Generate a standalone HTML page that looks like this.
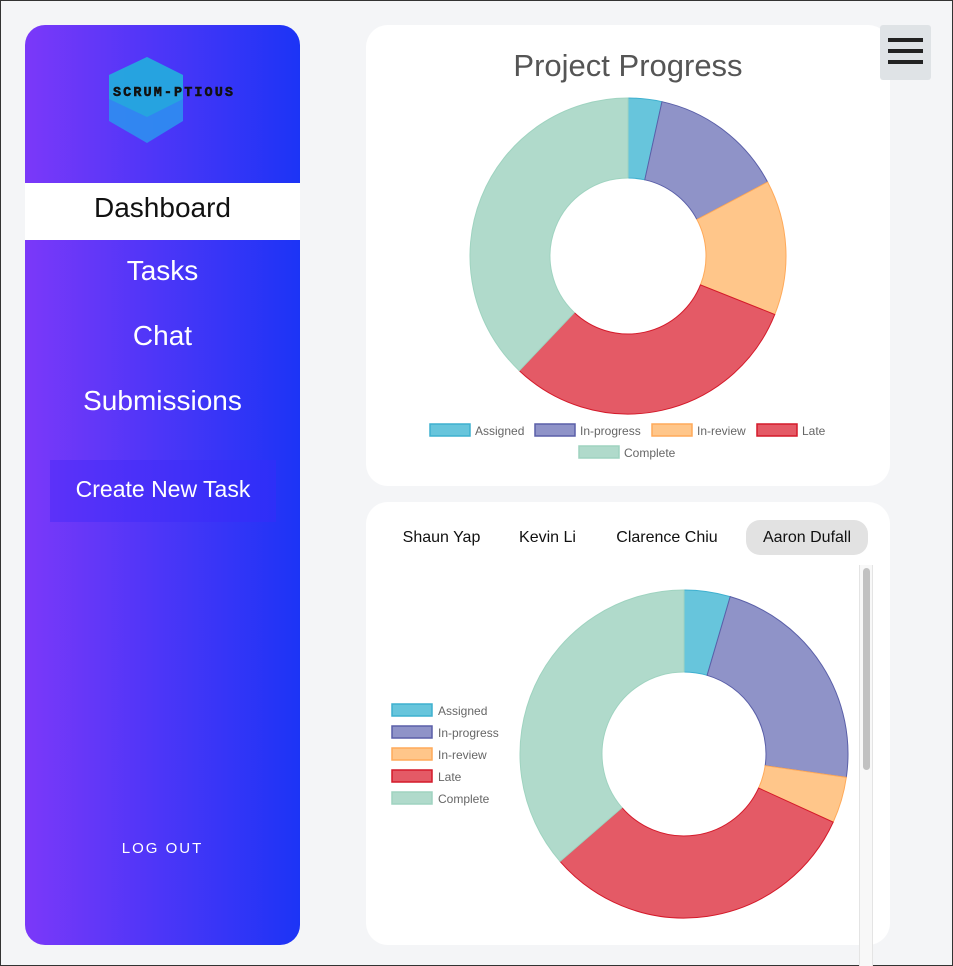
<!DOCTYPE html>
<html><head><meta charset="utf-8"><style>
*{box-sizing:border-box;margin:0;padding:0}
body{width:953px;height:966px;background:#f4f5f7;font-family:"Liberation Sans",sans-serif;position:relative;overflow:hidden;box-shadow:inset 0 0 0 1px #333}
.side{position:absolute;left:25px;top:25px;width:275px;height:920px;border-radius:20px;background:linear-gradient(90deg,#7b38f9,#1c34f6);overflow:hidden}
.nav{position:absolute;left:0;width:275px;text-align:center;color:#fff;font-size:28px}
.card{position:absolute;background:#fff;border-radius:22px}
.tab{position:absolute;top:520px;height:35px;line-height:35px;font-size:16px;color:#111;text-align:center}
</style></head><body>
<div class="side">
 <svg style="position:absolute;left:80px;top:30px" width="130" height="90">
  <polygon points="42,2 78,20 78,66 42,88 4,66 4,20" fill="#2d8ff0" opacity="0.9"/>
  <polygon points="42,2 78,20 78,44 42,62 4,44 4,20" fill="#1fb7d6" opacity="0.6"/>
  <text x="8" y="41" font-family="Liberation Mono,monospace" font-weight="bold" font-size="13.5" fill="#111" textLength="120" stroke="#111" stroke-width="0.5">SCRUM-PTIOUS</text>
 </svg>
 <div class="nav" style="top:158px;height:57px;line-height:50px;background:#fff;color:#111">Dashboard</div>
 <div class="nav" style="top:230px">Tasks</div>
 <div class="nav" style="top:295px">Chat</div>
 <div class="nav" style="top:360px">Submissions</div>
 <div style="position:absolute;left:25px;top:435px;width:226px;height:62px;line-height:58px;text-align:center;color:#fff;font-size:23px;background:rgba(60,40,250,0.4)">Create New Task</div>
 <div style="position:absolute;left:0;width:275px;top:815px;text-align:center;color:#fff;font-size:15px;letter-spacing:2px">LOG OUT</div>
</div>
<div class="card" style="left:366px;top:25px;width:524px;height:461px"></div>
<div class="card" style="left:366px;top:502px;width:524px;height:443px"></div>
<div style="position:absolute;left:880px;top:25px;width:51px;height:55px;background:#dfe3e6;border-radius:3px">
 <div style="position:absolute;left:8px;top:13px;width:35px;height:4px;background:#222"></div>
 <div style="position:absolute;left:8px;top:24px;width:35px;height:4px;background:#222"></div>
 <div style="position:absolute;left:8px;top:35px;width:35px;height:4px;background:#222"></div>
</div>
<div style="position:absolute;left:366px;width:524px;top:48px;text-align:center;font-size:31px;color:#555">Project Progress</div>
<div class="tab" style="left:390px;width:103px">Shaun Yap</div>
<div class="tab" style="left:510px;width:75px">Kevin Li</div>
<div class="tab" style="left:603px;width:128px">Clarence Chiu</div>
<div class="tab" style="left:746px;width:122px;background:#e2e2e2;border-radius:14px">Aaron Dufall</div>
<div style="position:absolute;left:859px;top:565px;width:14px;height:401px;background:#f8f8f8;border-left:1px solid #e4e4e4;border-right:1px solid #e4e4e4">
 <div style="position:absolute;left:3px;top:3px;width:7px;height:202px;background:#c1c1c1;border-radius:4px"></div>
</div>
<svg id="chart" width="953" height="966" style="position:absolute;left:0;top:0"></svg>
<script>
const categories=["Assigned","In-progress","In-review","Late","Complete"];
const projectValues=[1,4,4,9,11];
const memberValues=[1,5,1,7,8];
const fills=["#67c5dc","#8f93c8","#ffc68a","#e45a66","#b0dacb"];
const strokes=["#3fb0cf","#5a5fa8","#ffaa5a","#d41a2a","#9fd3c0"];
const NS="http://www.w3.org/2000/svg";
const svg=document.getElementById('chart');
function mk(t,a){const e=document.createElementNS(NS,t);for(const k in a)e.setAttribute(k,a[k]);svg.appendChild(e);return e;}
function donut(vals,cx,cy,R,r,prefix){
 const tot=vals.reduce((a,b)=>a+b,0);let a0=0;
 vals.forEach((v,i)=>{const a1=a0+v/tot*2*Math.PI;
  const p=(ang,rad)=>[cx+rad*Math.sin(ang),cy-rad*Math.cos(ang)];
  const [x1,y1]=p(a0,R),[x2,y2]=p(a1,R),[x3,y3]=p(a1,r),[x4,y4]=p(a0,r);
  const lg=(a1-a0)>Math.PI?1:0;
  const e=mk('path',{d:`M${x1},${y1}A${R},${R} 0 ${lg} 1 ${x2},${y2}L${x3},${y3}A${r},${r} 0 ${lg} 0 ${x4},${y4}Z`,fill:fills[i],stroke:strokes[i],'stroke-width':1});
  
  
  a0=a1;});
}
donut(projectValues,628,256,158,78,'project');
donut(memberValues,684,754,164,82,'member');
const topPos=[[430,424],[535,424],[652,424],[757,424],[579,446]];
categories.forEach((c,i)=>{const [x,y]=topPos[i];
 const r=mk('rect',{x:x,y:y,width:40,height:12,fill:fills[i],stroke:strokes[i],'stroke-width':1.5});
 
 
 const t=mk('text',{x:x+45,y:y+11,'font-size':12,fill:'#666','font-family':'Liberation Sans,sans-serif'});t.textContent=c;
 
 
});
categories.forEach((c,i)=>{const x=392,y=704+i*22;
 const r=mk('rect',{x:x,y:y,width:40,height:12,fill:fills[i],stroke:strokes[i],'stroke-width':1.5});
 
 
 const t=mk('text',{x:x+46,y:y+11,'font-size':12,fill:'#666','font-family':'Liberation Sans,sans-serif'});t.textContent=c;
 
 
});
</script>
</body></html>
